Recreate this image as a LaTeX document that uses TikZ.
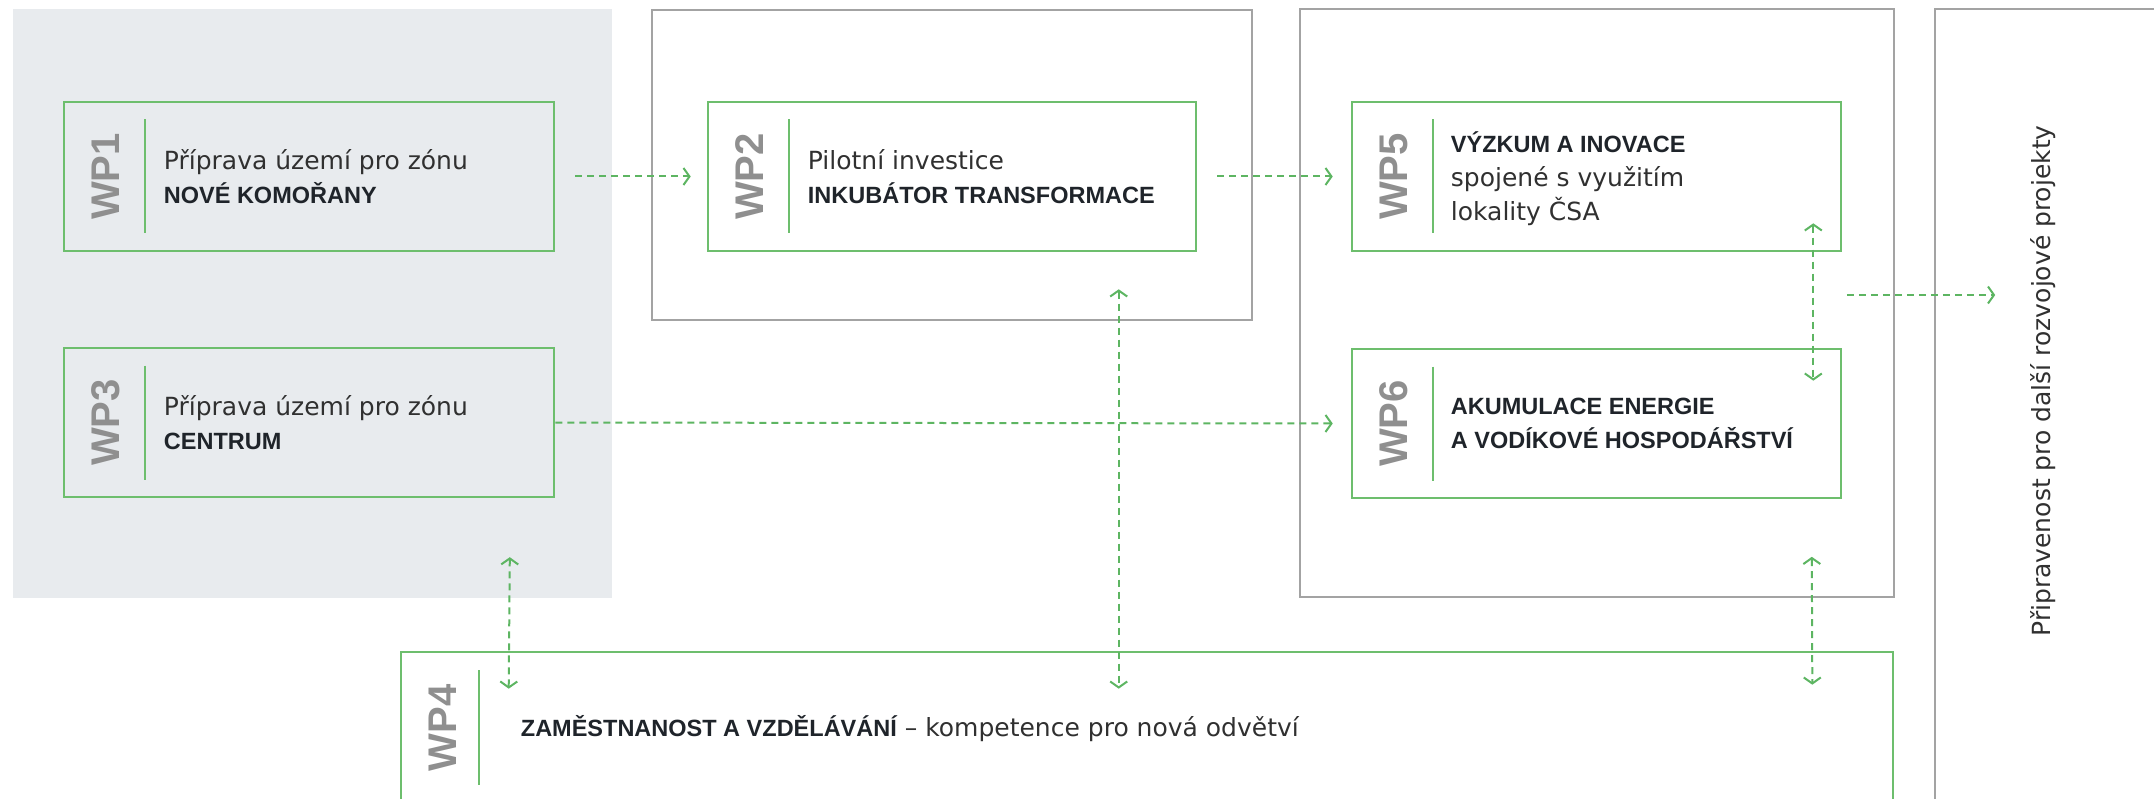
\documentclass[tikz,border=0pt]{standalone}
\usepackage{fontspec}
\setmainfont{DejaVu Sans}
\newfontfamily\headfont{Liberation Sans}
\usetikzlibrary{arrows.meta,calc}
\definecolor{panelgrey}{HTML}{E8EBEE}
\definecolor{framegrey}{HTML}{A3A3A3}
\definecolor{wpgreen}{HTML}{6DBE6D}
\definecolor{linkgreen}{HTML}{5DB562}
\definecolor{labelgrey}{HTML}{8F8F8F}
\definecolor{ink}{HTML}{303030}
\definecolor{boldink}{HTML}{1F242A}
\newcommand{\hl}[1]{{\headfont\bfseries\fontsize{23.5}{34}\selectfont\color{boldink}#1}}
\tikzset{
  panel/.style={fill=panelgrey, inner sep=0pt},
  frame/.style={draw=framegrey, line width=1.6pt, inner sep=0pt},
  wpbox/.style={draw=wpgreen, line width=2.6pt, inner sep=0pt},
  wplabel/.style={rotate=90, text=labelgrey, inner sep=0pt, font=\headfont\bfseries\fontsize{40}{40}\selectfont},
  divider/.style={draw=wpgreen, line width=2pt},
  wptext/.style={anchor=west, align=left, inner sep=0pt, text=ink, font=\fontsize{25}{34}\selectfont},
  tip/.tip={Straight Barb[length=6pt, width=17pt, line width=2pt]},
  link/.style={draw=linkgreen, line width=2pt, dash pattern=on 7pt off 5pt, -tip},
  dlink/.style={link, tip-tip}
}

\begin{document}
\begin{tikzpicture}[x=1pt, y=-1pt]
  \useasboundingbox (0,0) rectangle (2154,799);
  % grouping frames
  \node[panel, minimum width=599pt, minimum height=589pt] (grey) at (312.5,303.5) {};
  \node[frame, minimum width=600pt, minimum height=310pt] (boxA) at (952,165) {};
  \node[frame, minimum width=594pt, minimum height=588pt] (boxB) at (1597,303) {};
  \node[frame, minimum width=400pt, minimum height=900pt] (boxC) at (2135,459) {};
  \node[rotate=90, text=ink, inner sep=0pt, font=\fontsize{25}{30}\selectfont] (ready) at (2043,381) {Připravenost pro další rozvojové projekty};

  % work packages
  \node[wpbox, minimum width=490pt, minimum height=149pt] (wp1) at (309,176.5) {};
  \node[wpbox, minimum width=490pt, minimum height=149pt] (wp3) at (309,422.5) {};
  \node[wpbox, minimum width=488pt, minimum height=149pt] (wp2) at (952,176.5) {};
  \node[wpbox, minimum width=489pt, minimum height=149pt] (wp5) at (1596.5,176.5) {};
  \node[wpbox, minimum width=489pt, minimum height=149pt] (wp6) at (1596.5,423.5) {};
  \node[wpbox, minimum width=1492pt, minimum height=154pt] (wp4) at (1147,729) {};

  \foreach \n/\l in {wp1/WP1,wp2/WP2,wp3/WP3,wp5/WP5,wp6/WP6}{
    \node[wplabel] (\n-tag) at ($(\n.west)+(43,0)$) {\l};
    \draw[divider] ($(\n.west)+(82,-57)$) -- ($(\n.west)+(82,57)$);
  }
  \node[wplabel] (wp4-tag) at ($(wp4.west)+(43,-1)$) {WP4};
  \draw[divider] ($(wp4.west)+(79,-59)$) -- ($(wp4.west)+(79,56)$);

  \node[wptext] (wp1-txt) at ($(wp1.west)+(101,0)$) {Příprava území pro zónu\\\hl{NOVÉ KOMOŘANY}};
  \node[wptext] (wp3-txt) at ($(wp3.west)+(101,0)$) {Příprava území pro zónu\\\hl{CENTRUM}};
  \node[wptext] (wp2-txt) at ($(wp2.west)+(101,0)$) {Pilotní investice\\\hl{INKUBÁTOR TRANSFORMACE}};
  \node[wptext] (wp5-txt) at ($(wp5.west)+(100,2)$) {\hl{VÝZKUM A INOVACE}\\spojené s využitím\\lokality ČSA};
  \node[wptext] (wp6-txt) at ($(wp6.west)+(100,0)$) {\hl{AKUMULACE ENERGIE}\\\hl{A VODÍKOVÉ HOSPODÁŘSTVÍ}};
  \node[wptext] (wp4-txt) at ($(wp4.west)+(121,0)$) {\hl{ZAMĚSTNANOST A VZDĚLÁVÁNÍ} – kompetence pro nová odvětví};

  % links
  \draw[link] ($(wp1.east)+(20,0)$) -- ($(wp2.west)+(-16,0)$);
  \draw[link] ($(wp2.east)+(20,0)$) -- ($(wp5.west)+(-18,0)$);
  \draw[link] (wp3.east) -- ($(wp6.west)+(-18,0)$);
  \draw[dlink] ($(wp5.south east)+(-29,-29)$) -- ($(wp6.north east)+(-29,33)$);
  \draw[link] ($(boxB.east)+(-48,-8)$) -- ($(boxC.west |- boxB.east)+(61,-8)$);
  \draw[dlink] ($(wp2.south west)+(412,37)$) -- ($(wp4.north west)+(719,38)$);
  \draw[dlink] ($(grey.south west)+(497,-41)$) -- ($(wp4.north west)+(109,38)$);
  \draw[dlink] ($(boxB.south east)+(-83,-41)$) -- ($(wp4.north east)+(-82,34)$);
\end{tikzpicture}
\end{document}
